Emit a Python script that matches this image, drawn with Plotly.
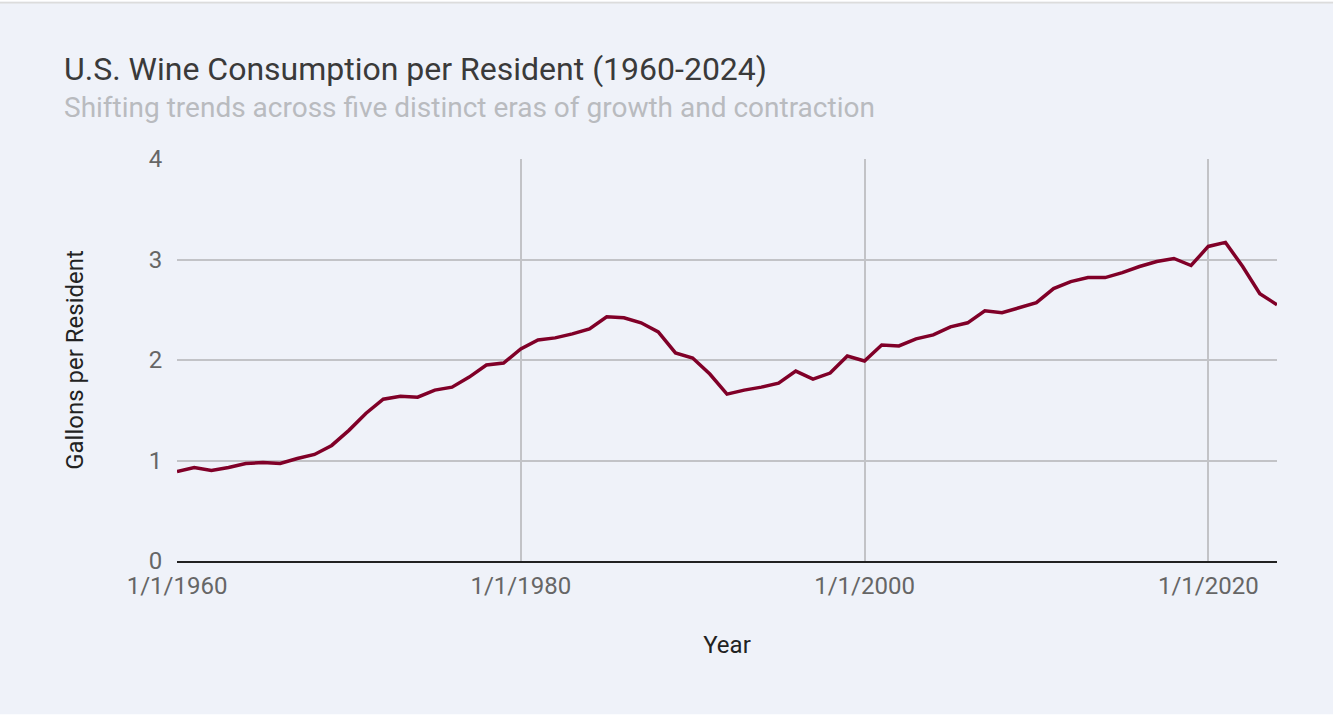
import plotly.graph_objects as go

# U.S. wine consumption per resident, gallons
years = list(range(1960, 2025))
gallons = [
    0.89, 0.93, 0.90, 0.93, 0.97, 0.98, 0.97, 1.02, 1.06, 1.15,
    1.30, 1.47, 1.61, 1.64, 1.63, 1.70, 1.73, 1.83, 1.95, 1.97,
    2.11, 2.20, 2.22, 2.26, 2.31, 2.43, 2.42, 2.37, 2.28, 2.07,
    2.02, 1.86, 1.66, 1.70, 1.73, 1.77, 1.89, 1.81, 1.87, 2.04,
    1.99, 2.15, 2.14, 2.21, 2.25, 2.33, 2.37, 2.49, 2.47, 2.52,
    2.57, 2.71, 2.78, 2.82, 2.82, 2.87, 2.93, 2.98, 3.01, 2.94,
    3.13, 3.17, 2.93, 2.66, 2.55,
]
tick_years = [1960, 1980, 2000, 2020]
y_ticks = [0, 1, 2, 3, 4]

dates = [f"{y}-01-01" for y in years]

BG = "#eff2f9"
FONT = "Roboto"

fig = go.Figure()
fig.add_trace(go.Scatter(
    x=dates, y=gallons, mode="lines",
    line=dict(color="#800028", width=3.5),
    name="Gallons per Resident",
))

fig.update_layout(
    width=1333, height=722,
    paper_bgcolor=BG, plot_bgcolor=BG,
    margin=dict(l=177, r=56, t=159, b=161),
    showlegend=False,
    font=dict(family=FONT, color="#555555"),
    xaxis=dict(
        range=[dates[0], dates[-1]],
        tickvals=[f"{y}-01-01" for y in tick_years],
        ticktext=[f"1/1/{y}" for y in tick_years],
        tickfont=dict(size=24, color="#666666"),
        showgrid=True, gridcolor="#c2c3c7", gridwidth=2,
        showline=True, linecolor="#222222", linewidth=2,
        ticks="outside", ticklen=2, tickcolor="rgba(0,0,0,0)",
        zeroline=False,
        title=dict(text="Year", font=dict(size=24, color="#222222"), standoff=37),
    ),
    yaxis=dict(
        range=[0, 4],
        tickvals=y_ticks,
        tickfont=dict(size=24, color="#666666"),
        showgrid=True, gridcolor="#c2c3c7", gridwidth=2,
        zeroline=False, showline=False,
        ticks="outside", ticklen=9, tickcolor="rgba(0,0,0,0)",
        title=dict(text="Gallons per Resident", font=dict(size=24, color="#222222"), standoff=58),
    ),
    annotations=[
        dict(text="U.S. Wine Consumption per Resident (1960-2024)",
             xref="paper", yref="paper", x=-0.1045, y=1.223,
             xanchor="left", yanchor="middle", showarrow=False,
             font=dict(family=FONT, size=32, color="#3a3a3a")),
        dict(text="Shifting trends across five distinct eras of growth and contraction",
             xref="paper", yref="paper", x=-0.1045, y=1.127,
             xanchor="left", yanchor="middle", showarrow=False,
             font=dict(family=FONT, size=28, color="#b9bbbf")),
    ],
    shapes=[
        dict(type="rect", xref="paper", yref="paper", x0=-0.2, x1=1.1,
             y0=-0.381, y1=-0.41, fillcolor="white", line=dict(width=0), layer="above"),
        dict(type="line", xref="paper", yref="paper", x0=-0.2, x1=1.1,
             y0=1.389, y1=1.389, line=dict(color="#dcdcdc", width=2)),
        dict(type="rect", xref="paper", yref="paper", x0=-0.2, x1=1.1,
             y0=1.392, y1=1.41, fillcolor="white", line=dict(width=0)),
    ],
)

fig.write_html("out.html", config={"displayModeBar": False},
               post_script="document.body.style.margin='0';")
